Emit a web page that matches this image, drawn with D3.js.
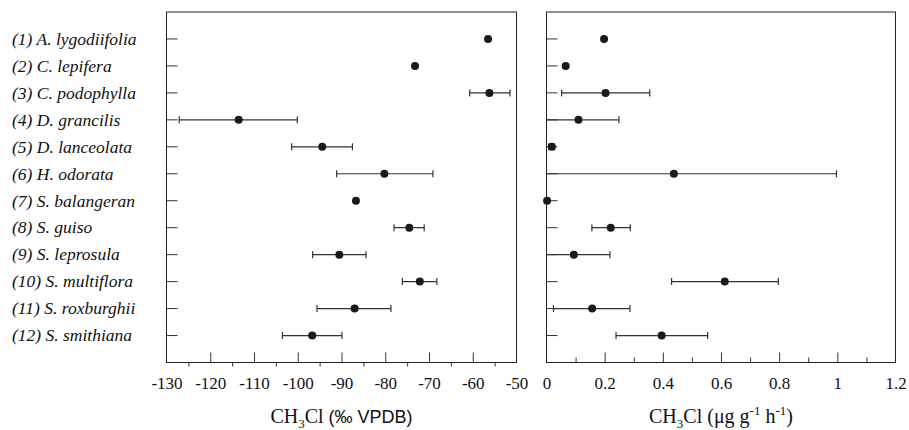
<!DOCTYPE html>
<html>
<head>
<meta charset="utf-8">
<script src="https://cdn.jsdelivr.net/npm/d3@7"></script>
<style>
  body { margin: 0; background: #fff; }
  svg { display: block; }
</style>
</head>
<body>
<div id="chart"></div>
<script>
// species labels (top to bottom)
const species = [
  "(1) A. lygodiifolia", "(2) C. lepifera", "(3) C. podophylla", "(4) D. grancilis",
  "(5) D. lanceolata", "(6) H. odorata", "(7) S. balangeran", "(8) S. guiso",
  "(9) S. leprosula", "(10) S. multiflora", "(11) S. roxburghii", "(12) S. smithiana"
];

// delta13C of CH3Cl (‰ VPDB): mean, low, high (null = no error bar)
const isoMean = [-56.5, -73.2, -56.2, -113.5, -94.4, -80.2, -86.7, -74.5, -90.5, -72.1, -87.0, -96.7];
const isoLow  = [null, null, -60.7, -127.1, -101.4, -91.1, null, -78.0, -96.6, -76.1, -95.6, -103.5];
const isoHigh = [null, null, -51.5, -100.1, -87.5, -69.1, null, -71.1, -84.4, -68.2, -78.7, -89.9];

// emission rate of CH3Cl (ug g-1 h-1)
const rateMean = [0.198, 0.066, 0.203, 0.110, 0.018, 0.438, 0.002, 0.221, 0.094, 0.613, 0.157, 0.396];
const rateLow  = [null, null, 0.052, -0.03, 0.008, -0.12, null, 0.156, -0.03, 0.430, 0.024, 0.239];
const rateHigh = [null, null, 0.355, 0.249, 0.028, 0.997, null, 0.288, 0.218, 0.797, 0.287, 0.554];

const isoTicks = [-130, -120, -110, -100, -90, -80, -70, -60, -50];
const rateTicks = [0, 0.2, 0.4, 0.6, 0.8, 1, 1.2];

const width = 909, height = 430;
const plotTop = 12, plotBottom = 362.5;
const serif = "Liberation Serif, Times New Roman, serif";

const svg = d3.select("#chart").append("svg")
  .attr("width", width)
  .attr("height", height);

const y = d3.scalePoint()
  .domain(species)
  .range([plotTop, plotBottom])
  .padding(1);

const xL = d3.scaleLinear().domain([-130, -50]).range([166.5, 516.5]);
const xR = d3.scaleLinear().domain([0, 1.2]).range([546.5, 895.5]);

// species labels
svg.append("g")
  .selectAll("text")
  .data(species)
  .enter()
  .append("text")
  .attr("x", 12)
  .attr("y", d => y(d))
  .attr("dy", "0.33em")
  .attr("font-family", serif)
  .attr("font-style", "italic")
  .attr("font-size", "17.5px")
  .attr("fill", "#111")
  .text(d => d);

function drawPanel(x, mean, low, high, labelTicks, majorTicks, minorTicks, outwardMinor) {
  const [x0, x1] = x.range();
  const id = "clip" + Math.round(x0);

  svg.append("clipPath").attr("id", id)
    .append("rect")
    .attr("x", x0).attr("y", plotTop)
    .attr("width", x1 - x0).attr("height", plotBottom - plotTop);

  // category ticks on left edge
  svg.append("g")
    .selectAll("line")
    .data(species)
    .enter()
    .append("line")
    .attr("x1", x0).attr("x2", x0 + 11)
    .attr("y1", d => y(d)).attr("y2", d => y(d))
    .attr("stroke", "#333")
    .attr("stroke-width", 1);

  // tick labels below
  const lab = svg.append("g")
    .attr("transform", `translate(0, ${plotBottom})`)
    .call(d3.axisBottom(x).tickValues(labelTicks).tickSize(0).tickPadding(14).tickFormat(d => d));
  lab.select(".domain").remove();
  lab.selectAll("text")
    .attr("font-family", serif)
    .attr("font-size", "17px")
    .attr("fill", "#111");

  // major ticks inward
  const major = svg.append("g")
    .attr("transform", `translate(0, ${plotBottom})`)
    .call(d3.axisBottom(x).tickValues(majorTicks).tickSize(-10).tickFormat(""));
  major.select(".domain").remove();
  major.selectAll("line").attr("stroke", "#333");

  // minor ticks
  const minor = svg.append("g")
    .attr("transform", `translate(0, ${plotBottom})`)
    .call(d3.axisBottom(x).tickValues(minorTicks).tickSize(outwardMinor ? 4 : -5).tickFormat(""));
  minor.select(".domain").remove();
  minor.selectAll("line").attr("stroke", "#333");

  const g = svg.append("g").attr("clip-path", `url(#${id})`);
  const rows = species.map((s, i) => ({ s, m: mean[i], lo: low[i], hi: high[i] }));
  const withErr = rows.filter(d => d.lo !== null);

  // error bars
  g.selectAll(".err")
    .data(withErr)
    .enter()
    .append("line")
    .attr("x1", d => x(d.lo)).attr("x2", d => x(d.hi))
    .attr("y1", d => y(d.s)).attr("y2", d => y(d.s))
    .attr("stroke", "#333").attr("stroke-width", 1.2);

  const caps = [];
  withErr.forEach(d => { caps.push({ s: d.s, v: d.lo }); caps.push({ s: d.s, v: d.hi }); });
  g.selectAll(".cap")
    .data(caps.filter(c => c.v >= x.domain()[0]))
    .enter()
    .append("line")
    .attr("x1", d => x(d.v)).attr("x2", d => x(d.v))
    .attr("y1", d => y(d.s) - 3.5).attr("y2", d => y(d.s) + 3.5)
    .attr("stroke", "#333").attr("stroke-width", 1.2);

  // points
  svg.append("g")
    .selectAll("circle")
    .data(rows)
    .enter()
    .append("circle")
    .attr("cx", d => x(d.m))
    .attr("cy", d => y(d.s))
    .attr("r", 4)
    .attr("fill", "#1a1a1a");

  // frame
  svg.append("rect")
    .attr("x", x0).attr("y", plotTop)
    .attr("width", x1 - x0).attr("height", plotBottom - plotTop)
    .attr("fill", "none")
    .attr("stroke", "#222")
    .attr("stroke-width", 1);
}

drawPanel(xL, isoMean, isoLow, isoHigh, isoTicks, isoTicks.slice(1, -1),
  d3.range(-125, -50, 10), true);
drawPanel(xR, rateMean, rateLow, rateHigh, rateTicks, rateTicks.slice(1, -1),
  [0.1, 0.3, 0.5, 0.7, 0.9, 1.1], false);

// axis titles
const t1 = svg.append("text")
  .attr("x", (xL.range()[0] + xL.range()[1]) / 2)
  .attr("y", 423)
  .attr("text-anchor", "middle")
  .attr("font-size", "20px")
  .attr("fill", "#111");
t1.append("tspan").attr("font-family", serif).text("CH");
t1.append("tspan").attr("font-family", serif).attr("font-size", "13px").attr("dy", 5).text("3");
t1.append("tspan").attr("font-family", serif).attr("dy", -5).text("Cl ");
t1.append("tspan").attr("font-family", "Liberation Sans, Arial, sans-serif").attr("font-size", "18px").text("(‰ VPDB)");

const t2 = svg.append("text")
  .attr("x", (xR.range()[0] + xR.range()[1]) / 2)
  .attr("y", 423)
  .attr("text-anchor", "middle")
  .attr("font-family", serif)
  .attr("font-size", "20px")
  .attr("fill", "#111");
t2.append("tspan").text("CH");
t2.append("tspan").attr("font-size", "13px").attr("dy", 5).text("3");
t2.append("tspan").attr("dy", -5).text("Cl (μg g");
t2.append("tspan").attr("font-size", "13px").attr("dy", -8).text("-1");
t2.append("tspan").attr("dy", 8).text(" h");
t2.append("tspan").attr("font-size", "13px").attr("dy", -8).text("-1");
t2.append("tspan").attr("dy", 8).text(")");
</script>
</body>
</html>
